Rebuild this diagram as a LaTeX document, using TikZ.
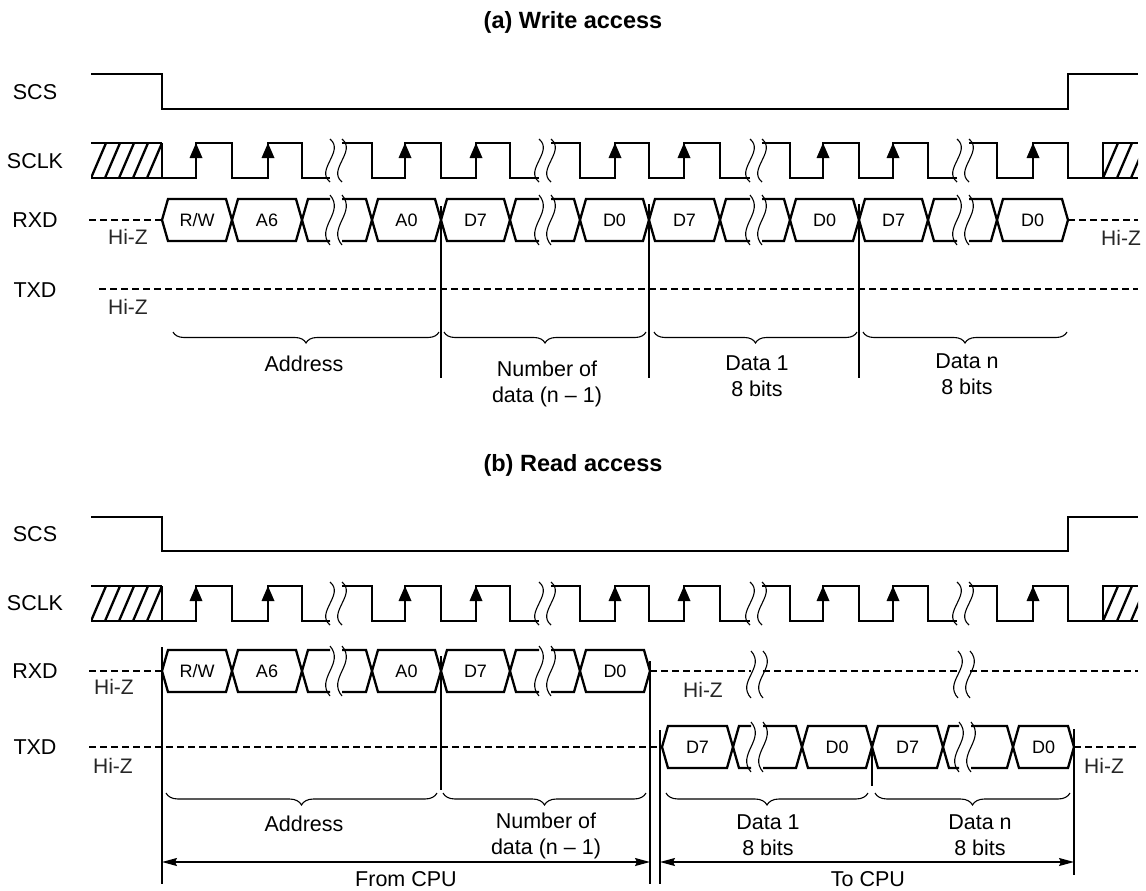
\documentclass[tikz,border=0pt]{standalone}
\usepackage{fontspec}
\setmainfont{Liberation Sans}
\usetikzlibrary{arrows.meta,decorations.pathreplacing}

\tikzset{
  sig/.style={line width=2.3pt, line join=miter},
  hiz/.style={line width=2pt, dash pattern=on 7pt off 4pt},
  thinln/.style={line width=1.1pt},
  sepline/.style={line width=1.2pt},
  lbl/.style={font=\fontsize{21.5}{26.5}\selectfont, inner sep=0pt, align=center},
  hizlbl/.style={font=\fontsize{21}{24}\selectfont, inner sep=0pt, text=black!85},
  buslbl/.style={font=\fontsize{18}{21}\selectfont, inner sep=0pt},
  ttl/.style={font=\fontsize{23.5}{27}\selectfont\bfseries, inner sep=0pt},
  brc/.style={thinln, decorate, decoration={brace, mirror, amplitude=#1}},
  dimarrow/.style={line width=1.2pt, {Stealth[length=15pt,width=8pt,inset=2pt]}-{Stealth[length=15pt,width=8pt,inset=2pt]}}
}

\newcommand{\hexseg}[5]{%
  \draw[sig] (#2,#4) -- (#2+6,#4-21) -- (#3-6,#4-21) -- (#3,#4) -- (#3-6,#4+21) -- (#2+6,#4+21) -- cycle;
  \node[buslbl] (#1) at ({(#2+#3)/2},#4) {#5};}
\newcommand{\segopen}[3]{%
  \draw[sig] (#2,#3-21) -- (#1+6,#3-21) -- (#1,#3) -- (#1+6,#3+21) -- (#2,#3+21);}
\newcommand{\segclose}[3]{%
  \draw[sig] (#1,#3-21) -- (#2-6,#3-21) -- (#2,#3) -- (#2-6,#3+21) -- (#1,#3+21);}
\newcommand{\wavy}[3]{%
  \draw[thinln] (#1-6,#2) .. controls (#1+9,{#2+(#3-#2)*0.35}) and (#1-21,{#3-(#3-#2)*0.35}) .. (#1-6,#3);
  \draw[thinln] (#1+6,#2) .. controls (#1+21,{#2+(#3-#2)*0.35}) and (#1-9,{#3-(#3-#2)*0.35}) .. (#1+6,#3);}
\newcommand{\scswave}[2]{%
  \draw[sig] (91,#1) -- (162,#1) -- (162,#2) -- (1068,#2) -- (1068,#1) -- (1138,#1);}
\newcommand{\clkwave}[2]{%
  \draw[sig] (91,#1) -- (162,#1) (91,#2) -- (162,#2);
  \begin{scope}
    \clip (91,#1-3) rectangle (162,#2+3);
    \foreach \hx in {91,105,119,133,147} {\draw[sig] (\hx,#2) -- (\hx+15,#1);}
  \end{scope}
  \draw[sig] (162,#1) -- (162,#2) -- (196,#2) -- (196,#1) -- (232,#1) -- (232,#2) -- (268,#2) -- (268,#1) -- (302,#1) -- (302,#2) -- (330,#2);
  \wavy{336}{#1-4}{#2+4}
  \draw[sig] (342,#1) -- (372,#1) -- (372,#2) -- (405,#2) -- (405,#1) -- (441,#1) -- (441,#2) -- (476,#2) -- (476,#1) -- (510,#1) -- (510,#2) -- (539,#2);
  \wavy{545}{#1-4}{#2+4}
  \draw[sig] (551,#1) -- (580,#1) -- (580,#2) -- (615,#2) -- (615,#1) -- (649,#1) -- (649,#2) -- (684,#2) -- (684,#1) -- (720,#1) -- (720,#2) -- (750,#2);
  \wavy{756}{#1-4}{#2+4}
  \draw[sig] (762,#1) -- (790,#1) -- (790,#2) -- (823,#2) -- (823,#1) -- (859,#1) -- (859,#2) -- (893,#2) -- (893,#1) -- (928,#1) -- (928,#2) -- (957,#2);
  \wavy{963}{#1-4}{#2+4}
  \draw[sig] (969,#1) -- (997,#1) -- (997,#2) -- (1033,#2) -- (1033,#1) -- (1068,#1) -- (1068,#2) -- (1103,#2) -- (1103,#1) -- (1138,#1) (1103,#2) -- (1138,#2);
  \begin{scope}
    \clip (1103,#1-3) rectangle (1138,#2+3);
    \foreach \hx in {1103,1117,1131} {\draw[sig] (\hx,#2) -- (\hx+15,#1);}
  \end{scope}
  \foreach \ax in {196,268,405,476,615,684,823,893,1033} {\fill (\ax,#1) -- (\ax-6.5,#1+15) -- (\ax+6.5,#1+15) -- cycle;}
}

\begin{document}
\begin{tikzpicture}[x=1pt,y=-1pt]
\useasboundingbox (0,0) rectangle (1146,891);

% ================= (a) Write access =================
\node[ttl] (ta) at (573,22) {(a) Write access};
\node[lbl] (aSCS) at (35,92) {SCS};
\node[lbl] (aSCLK) at (35,161) {SCLK};
\node[lbl] (aRXD) at (35,220) {RXD};
\node[lbl] (aTXD) at (35,290) {TXD};

\scswave{74}{109}
\clkwave{143}{178}

% RXD
\draw[hiz] (89,220) -- (162,220);
\node[hizlbl] (ahz1) at (128,237) {Hi-Z};
\hexseg{aRW}{162}{232}{220}{R/W}
\hexseg{aA6}{232}{302}{220}{A6}
\segopen{302}{330}{220}
\wavy{336}{195}{245}
\segclose{342}{372}{220}
\hexseg{aA0}{372}{441}{220}{A0}
\hexseg{aDa}{441}{510}{220}{D7}
\segopen{510}{539}{220}
\wavy{545}{195}{245}
\segclose{551}{580}{220}
\hexseg{aDb}{580}{649}{220}{D0}
\hexseg{aDc}{649}{720}{220}{D7}
\segopen{720}{750}{220}
\wavy{756}{195}{245}
\segclose{762}{790}{220}
\hexseg{aDd}{790}{859}{220}{D0}
\hexseg{aDe}{859}{928}{220}{D7}
\segopen{928}{957}{220}
\wavy{963}{195}{245}
\segclose{969}{997}{220}
\hexseg{aDf}{997}{1068}{220}{D0}
\draw[hiz] (1068,220) -- (1138,220);
\node[hizlbl] (ahz2) at (1121,238) {Hi-Z};

% TXD
\draw[hiz] (99,289) -- (1138,289);
\node[hizlbl] (ahz3) at (128,307) {Hi-Z};

% separators
\coordinate (as1t) at (441,206); \coordinate (as1b) at (441,378);
\coordinate (as2t) at (649,204); \coordinate (as2b) at (649,378);
\coordinate (as3t) at (859,204); \coordinate (as3b) at (859,378);
\draw[sepline] (as1t) -- (as1b);
\draw[sepline] (as2t) -- (as2b);
\draw[sepline] (as3t) -- (as3b);

% braces
\draw[brc=11] (173,332) -- (439,332);
\draw[brc=11] (444,332) -- (646,332);
\draw[brc=11] (654,332) -- (857,332);
\draw[brc=11] (863,332) -- (1067,332);
\node[lbl] (aAddr) at (304,364) {Address};
\node[lbl] (aNum) at (547,384) {Number of\\data (n -- 1)};
\node[lbl] (aD1) at (757,376) {Data 1\\8 bits};
\node[lbl] (aDn) at (967,374) {Data n\\8 bits};

% ================= (b) Read access =================
\node[ttl] (tb) at (573,465) {(b) Read access};
\node[lbl] (bSCS) at (35,534) {SCS};
\node[lbl] (bSCLK) at (35,603) {SCLK};
\node[lbl] (bRXD) at (35,671) {RXD};
\node[lbl] (bTXD) at (35,747) {TXD};

\scswave{517}{551}
\clkwave{586}{621}

% RXD
\draw[hiz] (89,671) -- (162,671);
\node[hizlbl] (bhz1) at (114,687) {Hi-Z};
\hexseg{bRW}{162}{232}{671}{R/W}
\hexseg{bA6}{232}{302}{671}{A6}
\segopen{302}{330}{671}
\wavy{336}{646}{696}
\segclose{342}{372}{671}
\hexseg{bA0}{372}{441}{671}{A0}
\hexseg{bDa}{441}{510}{671}{D7}
\segopen{510}{539}{671}
\wavy{545}{646}{696}
\segclose{551}{580}{671}
\hexseg{bDb}{580}{650}{671}{D0}
\draw[hiz] (650,671) -- (751,671);
\wavy{757}{651}{698}
\draw[hiz] (763,671) -- (958,671);
\wavy{964}{651}{698}
\draw[hiz] (970,671) -- (1138,671);
\node[hizlbl] (bhz2) at (703,690) {Hi-Z};

% TXD
\draw[hiz] (89,747) -- (662,747);
\node[hizlbl] (bhz3) at (113,766) {Hi-Z};
\hexseg{bDc}{662}{733}{747}{D7}
\segopen{733}{751}{747}
\wavy{757}{722}{772}
\segclose{763}{802}{747}
\hexseg{bDd}{802}{872}{747}{D0}
\hexseg{bDe}{872}{943}{747}{D7}
\segopen{943}{959}{747}
\wavy{965}{722}{772}
\segclose{971}{1013}{747}
\hexseg{bDf}{1013}{1074}{747}{D0}
\draw[hiz] (1074,747) -- (1138,747);
\node[hizlbl] (bhz4) at (1104,766) {Hi-Z};

% separators
\coordinate (bs1t) at (162,647); \coordinate (bs1b) at (162,884);
\coordinate (bs2t) at (441,656); \coordinate (bs2b) at (441,790);
\coordinate (bs3t) at (650,661); \coordinate (bs3b) at (650,884);
\coordinate (bs4t) at (660,730); \coordinate (bs4b) at (660,884);
\coordinate (bs5t) at (872,741); \coordinate (bs5b) at (872,786);
\coordinate (bs6t) at (1074,729); \coordinate (bs6b) at (1074,875);
\draw[sepline] (bs1t) -- (bs1b);
\draw[sepline] (bs2t) -- (bs2b);
\draw[sepline] (bs3t) -- (bs3b);
\draw[sepline] (bs4t) -- (bs4b);
\draw[sepline] (bs5t) -- (bs5b);
\draw[sepline] (bs6t) -- (bs6b);

% braces
\draw[brc=12] (166,793) -- (437,793);
\draw[brc=12] (443,793) -- (646,793);
\draw[brc=12] (666,793) -- (868,793);
\draw[brc=12] (875,793) -- (1070,793);
\node[lbl] (bAddr) at (304,824) {Address};
\node[lbl] (bNum) at (546,836) {Number of\\data (n -- 1)};
\node[lbl] (bD1) at (768,835) {Data 1\\8 bits};
\node[lbl] (bDn) at (980,835) {Data n\\8 bits};

% direction arrows
\coordinate (fromL) at (162,862); \coordinate (fromR) at (650,862);
\coordinate (toL) at (660,862); \coordinate (toR) at (1074,862);
\draw[dimarrow] (fromL) -- (fromR);
\draw[dimarrow] (toL) -- (toR);
\node[lbl] (bFrom) at (406,879) {From CPU};
\node[lbl] (bTo) at (868,879) {To CPU};
\end{tikzpicture}
\end{document}
